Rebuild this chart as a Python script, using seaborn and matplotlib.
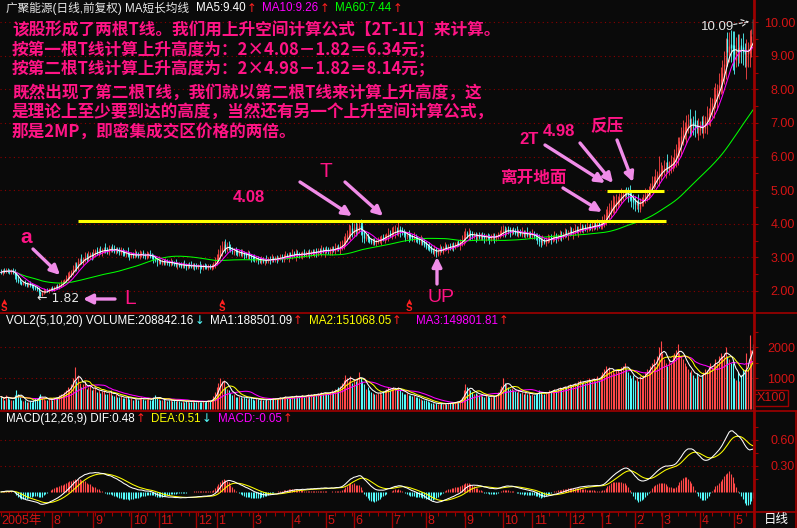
import numpy as np
import pandas as pd
import seaborn as sns
import matplotlib.pyplot as plt
from matplotlib.lines import Line2D

# daily bars, late jun 2005 .. mid may 2007 (20 bars per row)
close = [
    2.55, 2.60, 2.58, 2.62, 2.59, 2.57, 2.60, 2.56, 2.48, 2.36, 2.30, 2.26, 2.22, 2.25, 2.20, 2.18, 2.21, 2.17, 2.15, 2.12,
    2.08, 2.05, 1.98, 1.90, 1.95, 1.99, 2.02, 2.00, 2.05, 2.08, 2.06, 2.10, 2.13, 2.12, 2.18, 2.22, 2.28, 2.32, 2.38, 2.45,
    2.50, 2.58, 2.66, 2.75, 2.72, 2.85, 2.92, 2.88, 2.96, 3.02, 2.98, 3.05, 3.10, 3.06, 3.12, 3.18, 3.14, 3.20, 3.16, 3.22,
    3.25, 3.20, 3.18, 3.24, 3.28, 3.22, 3.19, 3.23, 3.20, 3.15, 3.18, 3.12, 3.10, 3.14, 3.08, 3.05, 3.09, 3.06, 3.10, 3.07,
    3.04, 3.08, 3.12, 3.06, 3.03, 3.07, 3.10, 3.05, 3.02, 2.96, 2.92, 2.88, 2.90, 2.86, 2.88, 2.84, 2.87, 2.85, 2.82, 2.86,
    2.83, 2.80, 2.78, 2.81, 2.77, 2.75, 2.79, 2.76, 2.74, 2.77, 2.75, 2.73, 2.76, 2.74, 2.72, 2.75, 2.73, 2.71, 2.74, 2.72,
    2.70, 2.73, 2.71, 2.74, 2.80, 2.88, 2.98, 3.10, 3.22, 3.28, 3.35, 3.26, 3.32, 3.28, 3.22, 3.18, 3.20, 3.15, 3.12, 3.16,
    3.10, 3.12, 3.08, 3.05, 3.08, 3.03, 3.00, 2.96, 2.94, 2.97, 2.93, 2.90, 2.92, 2.89, 2.93, 2.91, 2.95, 2.92, 2.96, 2.94,
    2.97, 2.95, 2.99, 3.02, 2.98, 3.03, 3.06, 3.02, 3.08, 3.05, 3.10, 3.07, 3.12, 3.09, 3.06, 3.10, 3.13, 3.08, 3.12, 3.15,
    3.12, 3.16, 3.13, 3.18, 3.15, 3.20, 3.17, 3.22, 3.19, 3.24, 3.21, 3.18, 3.23, 3.26, 3.22, 3.28, 3.30, 3.27, 3.33, 3.38,
    3.48, 3.58, 3.66, 3.74, 3.80, 3.76, 3.84, 3.80, 3.86, 3.92, 3.85, 3.70, 3.58, 3.62, 3.55, 3.50, 3.46, 3.49, 3.44, 3.48,
    3.52, 3.55, 3.58, 3.56, 3.62, 3.66, 3.70, 3.68, 3.74, 3.77, 3.80, 3.76, 3.82, 3.78, 3.75, 3.70, 3.66, 3.68, 3.62, 3.60,
    3.57, 3.60, 3.55, 3.52, 3.48, 3.50, 3.44, 3.38, 3.32, 3.28, 3.25, 3.20, 3.17, 3.22, 3.15, 3.20, 3.25, 3.22, 3.27, 3.30,
    3.28, 3.32, 3.30, 3.35, 3.33, 3.38, 3.42, 3.40, 3.46, 3.52, 3.62, 3.70, 3.66, 3.72, 3.68, 3.64, 3.67, 3.63, 3.66, 3.62,
    3.65, 3.61, 3.58, 3.62, 3.60, 3.57, 3.61, 3.64, 3.60, 3.63, 3.68, 3.72, 3.76, 3.80, 3.78, 3.82, 3.79, 3.76, 3.80, 3.77,
    3.74, 3.72, 3.75, 3.71, 3.73, 3.69, 3.72, 3.68, 3.70, 3.66, 3.68, 3.64, 3.60, 3.55, 3.50, 3.47, 3.50, 3.46, 3.52, 3.55,
    3.58, 3.56, 3.60, 3.62, 3.59, 3.63, 3.66, 3.64, 3.68, 3.72, 3.70, 3.74, 3.77, 3.75, 3.78, 3.82, 3.80, 3.84, 3.87, 3.85,
    3.88, 3.86, 3.90, 3.92, 3.89, 3.93, 3.96, 3.94, 3.97, 3.95, 4.00, 4.06, 4.12, 4.25, 4.35, 4.42, 4.50, 4.56, 4.62, 4.68,
    4.72, 4.80, 4.86, 4.90, 4.94, 4.92, 4.85, 4.78, 4.72, 4.64, 4.58, 4.62, 4.55, 4.66, 4.70, 4.78, 4.86, 4.92, 5.00, 5.10,
    5.20, 5.30, 5.38, 5.46, 5.52, 5.58, 5.62, 5.66, 5.70, 5.66, 5.74, 5.80, 5.86, 5.96, 6.10, 6.30, 6.45, 6.60, 6.78, 6.88,
    6.92, 6.96, 6.90, 6.98, 6.94, 6.88, 6.84, 6.86, 6.90, 6.85, 6.92, 7.05, 7.18, 7.30, 7.45, 7.58, 7.72, 7.85, 7.98, 8.12,
    8.30, 8.50, 8.75, 8.95, 9.10, 9.30, 9.22, 9.18, 9.05, 9.15, 9.10, 9.25, 9.18, 9.12, 9.05, 9.10, 9.20, 9.35, 9.60, 9.66,
]
# open - close, in steps of 1.5 % of close (minus = up day)
body_step = 1.5
body = [
    1, -2, 1, -1, 1, 1, -1, 2, 3, 4, 2, 2, 1, -1, 2, 1, -1, 2, 1, 1,
    1, 2, 3, 2, -2, -1, -1, 1, -2, -1, 1, -2, -1, 1, -2, -2, -2, -1, -2, -3,
    -2, -3, -3, -3, 2, -4, -2, 2, -3, -2, 2, -2, -2, 1, -2, -2, 2, -2, 1, -2,
    -1, 2, 1, -2, -1, 2, 1, -1, 1, 2, -1, 2, 1, -1, 2, 1, -1, 1, -1, 1,
    1, -1, -1, 2, 1, -1, -1, 2, 1, 2, 1, 1, -1, 1, -1, 1, -1, 1, 1, -1,
    1, 1, 1, -1, 1, 1, -1, 1, 1, -1, 1, 1, -1, 1, 1, -1, 1, 1, -1, 1,
    1, -1, 1, -1, -2, -3, -3, -4, -4, -2, -2, 3, -2, 1, 2, 1, -1, 2, 1, -1,
    2, -1, 1, 1, -1, 2, 1, 1, 1, -1, 1, 1, -1, 1, -1, 1, -1, 1, -1, 1,
    -1, 1, -1, -1, 1, -2, -1, 1, -2, 1, -2, 1, -2, 1, 1, -1, -1, 2, -1, -1,
    1, -1, 1, -2, 1, -2, 1, -2, 1, -2, 1, 1, -2, -1, 1, -2, -1, 1, -2, -2,
    -3, -3, -2, -2, -2, 2, -2, 2, -2, -2, 2, 4, 3, -1, 2, 1, 1, -1, 1, -1,
    -1, -1, -1, 1, -2, -1, -1, 1, -2, -1, -1, 1, -2, 1, 1, 1, 1, -1, 2, 1,
    1, -1, 1, 1, 1, -1, 2, 2, 2, 1, 1, 2, 1, -2, 2, -2, -2, 1, -2, -1,
    1, -1, 1, -1, 1, -1, -1, 1, -2, -2, -3, -2, 1, -2, 1, 1, -1, 1, -1, 1,
    -1, 1, 1, -1, 1, 1, -1, -1, 1, -1, -1, -1, -1, -2, 1, -1, 1, 1, -1, 1,
    1, 1, -1, 1, -1, 1, -1, 1, -1, 1, -1, 1, 1, 2, 2, 1, -1, 1, -2, -1,
    -1, 1, -1, -1, 1, -1, -1, 1, -1, -1, 1, -1, -1, 1, -1, -1, 1, -1, -1, 1,
    -1, 1, -1, -1, 1, -1, -1, 1, -1, 1, -1, -2, -2, -3, -2, -2, -2, -2, -2, -2,
    -2, -2, -2, -1, -1, 1, 2, 2, 2, 2, 2, -1, 2, -3, -1, -2, -2, -2, -2, -2,
    -2, -2, -2, -2, -2, -2, -1, -1, -1, 2, -2, -2, -2, -2, -3, -3, -3, -3, -3, -2,
    -2, -1, 2, -2, 1, 2, 1, -2, -1, 2, -2, -2, -2, -2, -2, -2, -2, -2, -2, -2,
    -2, -2, -3, -2, 3, -2, 1, 1, 2, -2, 1, -2, 1, 1, 1, -3, -1, -2, -3, 3,
]
# upper / lower shadows, in steps of 2.2 % of the body top / bottom
shadow_step = 2.2
hi_step = [
    1, 1, 1, 1, 1, 1, 1, 1, 1, 1, 2, 1, 1, 1, 1, 1, 1, 1, 1, 1,
    1, 1, 1, 1, 1, 2, 1, 1, 1, 1, 1, 1, 1, 1, 1, 2, 1, 1, 2, 2,
    2, 1, 2, 2, 1, 2, 1, 2, 1, 2, 1, 2, 1, 1, 2, 1, 1, 1, 2, 1,
    1, 2, 1, 2, 1, 1, 2, 1, 1, 1, 2, 1, 1, 1, 2, 1, 1, 1, 2, 1,
    1, 2, 1, 1, 1, 2, 1, 1, 1, 1, 1, 1, 2, 1, 1, 1, 2, 1, 1, 2,
    1, 1, 2, 1, 1, 1, 1, 2, 1, 1, 1, 2, 1, 1, 1, 1, 2, 1, 1, 1,
    1, 1, 1, 1, 1, 2, 2, 2, 2, 3, 2, 2, 2, 2, 1, 1, 1, 1, 1, 1,
    1, 2, 1, 1, 2, 1, 1, 1, 2, 1, 1, 1, 2, 1, 1, 2, 1, 1, 2, 1,
    1, 1, 1, 1, 1, 1, 2, 1, 1, 1, 2, 1, 2, 1, 1, 1, 1, 1, 1, 1,
    1, 1, 1, 1, 1, 1, 1, 2, 1, 1, 1, 1, 1, 1, 1, 2, 1, 1, 2, 2,
    2, 2, 2, 3, 2, 2, 2, 2, 2, 2, 2, 2, 1, 1, 1, 1, 1, 1, 1, 1,
    1, 1, 1, 1, 1, 1, 2, 1, 2, 2, 2, 1, 3, 1, 1, 1, 1, 1, 1, 1,
    1, 2, 1, 1, 1, 2, 1, 1, 1, 1, 2, 1, 1, 2, 1, 1, 2, 1, 1, 2,
    1, 1, 1, 1, 1, 1, 1, 1, 1, 2, 2, 2, 1, 2, 1, 1, 1, 1, 1, 1,
    1, 1, 1, 1, 1, 1, 1, 1, 1, 1, 1, 1, 2, 2, 1, 1, 1, 1, 1, 1,
    1, 2, 1, 1, 2, 1, 1, 2, 1, 1, 2, 1, 1, 1, 1, 1, 2, 1, 1, 2,
    1, 1, 1, 2, 1, 1, 2, 1, 1, 2, 1, 1, 2, 1, 1, 2, 1, 1, 2, 1,
    1, 1, 2, 1, 1, 2, 1, 1, 2, 1, 1, 2, 2, 2, 2, 2, 2, 3, 2, 2,
    1, 1, 2, 1, 1, 1, 1, 2, 1, 1, 1, 1, 2, 1, 1, 1, 2, 1, 1, 1,
    2, 1, 2, 1, 4, 2, 1, 2, 1, 2, 1, 2, 1, 2, 2, 2, 1, 2, 2, 1,
    2, 2, 2, 1, 1, 2, 1, 2, 1, 1, 2, 1, 2, 1, 2, 1, 2, 2, 1, 2,
    2, 2, 2, 3, 1, 2, 2, 2, 2, 2, 2, 2, 1, 2, 1, 2, 1, 2, 1, 0,
]
lo_step = [
    1, 1, 1, 1, 1, 1, 1, 1, 2, 2, 1, 1, 1, 1, 1, 1, 1, 1, 1, 2,
    1, 1, 2, 2, 1, 1, 1, 1, 1, 1, 1, 1, 1, 1, 1, 1, 1, 1, 1, 1,
    1, 1, 1, 1, 2, 1, 1, 1, 1, 1, 2, 1, 1, 2, 1, 1, 1, 1, 1, 1,
    1, 1, 1, 1, 1, 1, 1, 1, 1, 1, 1, 1, 1, 1, 1, 2, 1, 1, 1, 1,
    1, 1, 1, 1, 1, 1, 1, 1, 1, 2, 1, 2, 1, 1, 1, 1, 1, 1, 1, 1,
    1, 1, 1, 2, 1, 1, 1, 1, 2, 1, 1, 1, 1, 2, 1, 1, 3, 1, 1, 1,
    1, 1, 1, 1, 1, 1, 1, 1, 1, 2, 1, 2, 1, 1, 1, 1, 1, 1, 1, 1,
    1, 1, 2, 1, 1, 1, 2, 1, 1, 1, 2, 1, 1, 1, 2, 1, 1, 2, 1, 1,
    1, 2, 1, 1, 2, 1, 1, 1, 2, 1, 1, 1, 2, 1, 1, 1, 2, 1, 1, 1,
    2, 1, 1, 1, 2, 1, 1, 1, 1, 2, 1, 1, 1, 2, 1, 1, 1, 1, 2, 1,
    1, 1, 1, 1, 2, 2, 1, 2, 1, 1, 2, 3, 2, 1, 1, 1, 1, 1, 1, 1,
    1, 1, 2, 1, 1, 1, 2, 1, 1, 1, 2, 1, 1, 2, 1, 1, 2, 1, 2, 1,
    1, 1, 1, 1, 1, 1, 1, 1, 1, 1, 1, 1, 1, 1, 2, 1, 1, 1, 1, 1,
    1, 2, 1, 1, 2, 1, 1, 1, 2, 1, 1, 2, 1, 1, 2, 1, 1, 2, 1, 1,
    1, 1, 2, 1, 1, 2, 1, 1, 2, 1, 1, 1, 1, 1, 2, 1, 1, 2, 1, 1,
    1, 1, 1, 1, 1, 1, 1, 1, 1, 1, 1, 1, 1, 2, 2, 2, 1, 1, 1, 1,
    1, 2, 1, 1, 2, 1, 1, 2, 1, 1, 1, 2, 1, 1, 2, 1, 1, 2, 1, 1,
    1, 1, 1, 1, 1, 1, 1, 1, 1, 1, 1, 1, 1, 1, 1, 2, 2, 1, 2, 2,
    1, 1, 1, 1, 1, 1, 2, 1, 2, 2, 2, 1, 2, 1, 1, 1, 1, 1, 1, 1,
    1, 1, 1, 1, 2, 1, 1, 1, 2, 1, 1, 1, 1, 1, 1, 2, 1, 2, 1, 1,
    2, 1, 2, 1, 2, 2, 1, 1, 1, 1, 1, 1, 2, 1, 2, 1, 2, 1, 2, 1,
    1, 2, 1, 2, 2, 1, 2, 3, 3, 1, 2, 1, 2, 2, 2, 2, 2, 2, 1, 1,
]
# volume in x100 hands
volume = [
    400, 350, 300, 450, 380, 320, 300, 280, 450, 600, 500, 380, 300, 260, 280, 240, 220, 260, 230, 300,
    350, 280, 420, 500, 380, 320, 300, 280, 320, 350, 300, 360, 400, 380, 450, 500, 480, 560, 620, 700,
    650, 800, 1000, 1350, 900, 1100, 850, 700, 800, 900, 650, 700, 750, 600, 650, 700, 550, 600, 520, 580,
    620, 500, 480, 550, 600, 450, 420, 480, 400, 380, 420, 360, 350, 400, 380, 320, 350, 300, 340, 320,
    300, 350, 380, 320, 300, 330, 360, 300, 280, 400, 450, 380, 320, 300, 280, 320, 290, 270, 300, 280,
    260, 280, 250, 300, 270, 240, 260, 230, 250, 280, 240, 220, 260, 240, 230, 250, 220, 240, 260, 230,
    250, 280, 260, 300, 420, 550, 700, 850, 1000, 900, 950, 700, 650, 600, 520, 450, 480, 400, 380, 420,
    380, 350, 400, 360, 330, 350, 380, 320, 300, 340, 310, 290, 320, 300, 280, 310, 300, 330, 310, 350,
    340, 320, 360, 400, 350, 380, 420, 360, 400, 380, 420, 390, 450, 400, 380, 420, 460, 400, 430, 470,
    440, 480, 420, 500, 460, 520, 480, 550, 500, 560, 520, 480, 550, 600, 560, 650, 620, 700, 750, 850,
    950, 1100, 1000, 900, 1050, 850, 950, 900, 1000, 1200, 1000, 900, 800, 650, 700, 600, 550, 520, 480, 500,
    520, 560, 500, 580, 620, 650, 700, 600, 680, 720, 650, 600, 700, 620, 550, 500, 480, 520, 460, 440,
    420, 450, 400, 380, 350, 320, 300, 280, 300, 260, 220, 200, 180, 160, 200, 170, 150, 180, 160, 190,
    170, 200, 180, 210, 200, 230, 260, 250, 300, 400, 600, 800, 700, 650, 600, 550, 500, 520, 480, 450,
    460, 420, 400, 440, 420, 380, 400, 430, 410, 450, 550, 650, 750, 1000, 850, 800, 700, 650, 680, 600,
    580, 550, 600, 520, 560, 500, 540, 480, 520, 460, 500, 450, 480, 520, 600, 550, 500, 480, 520, 560,
    600, 580, 620, 650, 600, 680, 720, 650, 700, 750, 700, 780, 820, 750, 800, 850, 780, 900, 950, 850,
    900, 850, 950, 1000, 900, 950, 1000, 900, 1050, 950, 1100, 1200, 1300, 1400, 1250, 1350, 1200, 1300, 1150, 1250,
    1300, 1200, 1350, 1400, 1500, 1300, 1200, 1100, 1000, 1100, 950, 1000, 900, 1050, 1000, 1100, 1200, 1300, 1250, 1400,
    1500, 1600, 1400, 1700, 2000, 2200, 1800, 1600, 1500, 1400, 1600, 1500, 1700, 1800, 1900, 2100, 1800, 1700, 1600, 1500,
    1400, 1300, 1200, 1250, 1100, 1000, 1150, 1050, 1000, 1100, 1200, 1300, 1250, 1400, 1500, 1350, 1450, 1600, 1500, 1700,
    1800, 1700, 1800, 2000, 1700, 1600, 1500, 1500, 1000, 950, 1200, 900, 1100, 1300, 1200, 1800, 1250, 2400, 1900, 2088,
]

month_bar = [30, 54, 76, 92, 114, 126, 147, 170, 190, 206, 228, 248, 271, 293, 310, 332, 351, 370, 386, 408, 428]
month_lbl = ['8', '9', '10', '11', '12', '1', '3', '4', '5', '6', '7', '8', '9', '10', '11', '12', '1', '2', '3', '4', '5']
price_ticks = [2, 3, 4, 5, 6, 7, 8, 9, 10]
vol_ticks = [1000, 2000]
macd_ticks = [0.30, 0.60]
t_levels = [4.08, 4.98]
s_bars = [2, 129, 238]

note_lines = [
    "该股形成了两根T线。我们用上升空间计算公式【2T-1L】来计算。",
    "按第一根T线计算上升高度为：2×4.08－1.82＝6.34元；",
    "按第二根T线计算上升高度为：2×4.98－1.82＝8.14元；",
    "既然出现了第二根T线，我们就以第二根T线来计算上升高度，这",
    "是理论上至少要到达的高度，当然还有另一个上升空间计算公式，",
    "那是2MP，即密集成交区价格的两倍。",
]

# build the bars and the indicators
df = pd.DataFrame({'close': close, 'body': body, 'hi': hi_step, 'lo': lo_step, 'vol': volume})
df['open'] = df['close'] * (1 + df['body'] * body_step / 100)
df['top'] = df[['open', 'close']].max(axis=1)
df['bot'] = df[['open', 'close']].min(axis=1)
df['high'] = df['top'] * (1 + df['hi'] * shadow_step / 100)
df['low'] = df['bot'] * (1 - df['lo'] * shadow_step / 100)
df['up'] = df['close'] >= df['open']
for n in (5, 10, 60):
    df['ma%d' % n] = df['close'].rolling(n, min_periods=1).mean()
for n in (5, 10, 20):
    df['vma%d' % n] = df['vol'].rolling(n, min_periods=1).mean()
ema12 = df['close'].ewm(span=12, adjust=False).mean()
ema26 = df['close'].ewm(span=26, adjust=False).mean()
df['dif'] = ema12 - ema26
df['dea'] = df['dif'].ewm(span=9, adjust=False).mean()
df['macd'] = 2 * (df['dif'] - df['dea'])
x = np.arange(len(df))

BG = '#0a0a0a'
UP = '#ff4848'
DN = '#54fcfc'
AX = '#a00000'
LBL = '#d41414'
GRID = '#8a0000'
PINK = '#ff1485'
ARROW = '#f08ce8'
YEL = '#ffff00'
MAG = '#ff00ff'
RED_ARR = '#ff2020'

sns.set_theme(style='dark', rc={'axes.facecolor': BG, 'figure.facecolor': BG, 'axes.grid': False})
plt.rcParams['font.family'] = ['Liberation Sans', 'Noto Sans CJK SC', 'DejaVu Sans']
plt.rcParams['axes.unicode_minus'] = False

W, H = 797, 528
fig = plt.figure(figsize=(W / 100, H / 100), dpi=100)
renderer = fig.canvas.get_renderer()


def panel(top, bottom):
    ax = fig.add_axes([0, 1 - bottom / H, 754 / W, (bottom - top) / H])
    ax.set_facecolor(BG)
    for s in ax.spines.values():
        s.set_visible(False)
    ax.spines['right'].set_visible(True)
    ax.spines['right'].set_color(AX)
    ax.set_xlim(-0.5, len(df) - 0.5)
    ax.set_xticks([])
    ax.yaxis.tick_right()
    return ax


def right_ticks(ax, ticks, fmt, minor):
    ax.set_yticks(ticks, [fmt % t for t in ticks], ha='right')
    ax.set_yticks(minor, minor=True)
    ax.tick_params(axis='y', which='both', colors=AX, labelcolor=LBL, direction='out',
                   length=3, width=0.8, labelsize=9, pad=26.5, right=True, left=False)
    ax.grid(axis='y', which='major', color=GRID, linestyle=(0, (1, 3)), linewidth=0.8)


def ftext(px, py, s, color, **kw):
    return fig.text(px / W, 1 - py / H, s, color=color, ha=kw.pop('ha', 'left'),
                    va=kw.pop('va', 'center'), **kw)


def header(py, groups, size=8.4):
    # groups: (start_x, text, text colour, arrow, arrow colour); each piece goes after the last one
    end = 0
    for start, s, c, arr, ac in groups:
        cur = max(start, end + 6)
        t = ftext(cur, py, s, c, fontsize=size)
        cur = t.get_window_extent(renderer=renderer).x1 + 1
        if arr:
            t = ftext(cur, py, arr, ac, fontsize=size, family=['DejaVu Sans'])
            cur = t.get_window_extent(renderer=renderer).x1
        end = cur


def arrow(x0, y0, x1, y1):
    fig.axes[0].annotate('', xy=(x1, H - y1), xytext=(x0, H - y0), xycoords='figure pixels',
                         textcoords='figure pixels',
                         arrowprops=dict(arrowstyle='-|>', color=ARROW, lw=2.4, mutation_scale=14,
                                         shrinkA=0, shrinkB=0))


def fline(xs, ys):
    fig.add_artist(Line2D([v / W for v in xs], [1 - v / H for v in ys], transform=fig.transFigure,
                          color=AX, lw=1.2))


cols = np.where(df['up'], UP, DN)

# price panel
ax_p = panel(0, 312)
ax_p.set_ylim(1.375, 10.66)
right_ticks(ax_p, price_ticks, '%.2f', [t + 0.5 for t in price_ticks[:-1]])
ax_p.vlines(x, df['low'], df['high'], colors=cols, lw=0.6)
ax_p.vlines(x, df['bot'], df['top'], colors=cols, lw=0.95)
sns.lineplot(x=x, y=df['ma60'].values, ax=ax_p, color='#00ff00', lw=0.75)
sns.lineplot(x=x, y=df['ma10'].values, ax=ax_p, color=MAG, lw=0.75)
sns.lineplot(x=x, y=df['ma5'].values, ax=ax_p, color='white', lw=0.75)
ax_p.hlines(t_levels[0], 45, 388, colors=YEL, lw=2.2)
ax_p.hlines(t_levels[1], 354, 387, colors=YEL, lw=2.2)
tr = ax_p.get_xaxis_transform()
ax_p.plot(s_bars, [0.036] * len(s_bars), '^', transform=tr, color=RED_ARR, ms=3.5, mew=0)
for b in s_bars:
    ax_p.text(b, 0.012, 'S', transform=tr, color=RED_ARR, fontsize=7, fontweight='bold',
              ha='center', va='center')

# volume panel
ax_v = panel(313, 410)
ax_v.set_ylim(-32, 3097)
right_ticks(ax_v, vol_ticks, '%d', [500, 1500, 2500])
ax_v.vlines(x, 0, df['vol'], colors=cols, lw=0.8)
sns.lineplot(x=x, y=df['vma20'].values, ax=ax_v, color=MAG, lw=0.75)
sns.lineplot(x=x, y=df['vma10'].values, ax=ax_v, color=YEL, lw=0.75)
sns.lineplot(x=x, y=df['vma5'].values, ax=ax_v, color='white', lw=0.75)

# macd panel
ax_m = panel(411, 512)
ax_m.set_ylim(-0.231, 0.934)
right_ticks(ax_m, macd_ticks, '%.2f', [0.15, 0.45, 0.75])
ax_m.vlines(x, 0, df['macd'], colors=np.where(df['macd'] >= 0, UP, DN), lw=0.8)
sns.lineplot(x=x, y=df['dea'].values, ax=ax_m, color=YEL, lw=0.75)
sns.lineplot(x=x, y=df['dif'].values, ax=ax_m, color='white', lw=0.75)

# date band
ax_d = panel(512, 528)
ax_d.set_ylim(0, 1)
ax_d.set_yticks([])
ax_d.xaxis.tick_top()
ax_d.set_xticks(month_bar, [''] * len(month_bar))
ax_d.set_xticks(range(0, len(df), 5), minor=True)
ax_d.tick_params(axis='x', which='major', direction='in', length=12, width=1, color=AX, top=True, bottom=False)
ax_d.tick_params(axis='x', which='minor', direction='in', length=3, width=0.8, color=AX, top=True, bottom=False)
ax_d.text(0.3, 0.42, '2005年', color=LBL, fontsize=9, ha='left', va='center')
for b, lab in zip(month_bar, month_lbl):
    ax_d.text(b + 0.9, 0.42, lab, color=LBL, fontsize=9, ha='left', va='center')

# frame lines
fline([0, 797], [312.5, 312.5])
fline([0, 797], [411, 411])
fline([0, 797], [512, 512])
fline([754.5, 754.5], [0, 528])
fline([796, 796], [411, 528])
ftext(771, 398, 'X100', LBL, fontsize=9, ha='center',
      bbox=dict(boxstyle='square,pad=0.15', fc='none', ec=AX, lw=1))
ftext(776, 520, '日线', 'white', fontsize=9, ha='center', family=['Noto Sans CJK SC'])

# headers
header(8, [(1, '广聚能源(日线,前复权) MA短长均线', '#e6e6e6', '', ''),
           (193, 'MA5:9.40', 'white', '↑', RED_ARR),
           (259, 'MA10:9.26', MAG, '↑', RED_ARR),
           (332, 'MA60:7.44', '#00ff00', '↑', RED_ARR)])
header(321, [(1, 'VOL2(5,10,20) VOLUME:208842.16', 'white', '↓', DN),
             (200, 'MA1:188501.09', 'white', '↑', RED_ARR),
             (308, 'MA2:151068.05', YEL, '↑', RED_ARR),
             (416, 'MA3:149801.81', MAG, '↑', RED_ARR)])
header(419, [(1, 'MACD(12,26,9) DIF:0.48', 'white', '↑', RED_ARR),
             (150, 'DEA:0.51', YEL, '↓', DN),
             (218, 'MACD:-0.05', MAG, '↑', RED_ARR)])

# extremes marked by the software
ftext(37, 298, '← %.2f' % df['low'].min(), '#e6e6e6', fontsize=9, family=['DejaVu Sans'])
ftext(701, 27, '%.2f' % df['high'].max(), '#e6e6e6', fontsize=9.5)
fig.axes[0].annotate('', xy=(752, H - 21), xytext=(731, H - 25), xycoords='figure pixels',
                     textcoords='figure pixels',
                     arrowprops=dict(arrowstyle='->', color='#e6e6e6', lw=0.8, linestyle=(0, (3, 2))))

# notes
for s, py in zip(note_lines, [30, 50, 69, 93, 113, 133]):
    ftext(12, py, s, PINK, fontsize=12, fontweight='bold', family=['Noto Sans CJK SC', 'DejaVu Sans'])

ftext(20, 238, 'a', PINK, fontsize=15, fontweight='bold')
arrow(33, 249, 60, 275)
arrow(115, 299, 83, 299)
ftext(124, 298, 'L', PINK, fontsize=15)
arrow(437, 284, 437, 257)
ftext(427, 298, 'UP', PINK, fontsize=14)
ftext(320, 172, 'T', PINK, fontsize=15)
ftext(233, 197, '4.08', PINK, fontsize=12, fontweight='bold')
arrow(300, 182, 352, 216)
arrow(345, 182, 383, 216)
ftext(519, 140, '2T', PINK, fontsize=12, fontweight='bold')
ftext(543, 132, '4.98', PINK, fontsize=12, fontweight='bold')
ftext(590, 125, '反压', PINK, fontsize=12, fontweight='bold', family=['Noto Sans CJK SC'])
ftext(500, 178, '离开地面', PINK, fontsize=12, fontweight='bold', family=['Noto Sans CJK SC'])
arrow(545, 145, 605, 183)
arrow(580, 143, 613, 183)
arrow(617, 140, 633, 182)
arrow(563, 188, 602, 212)

fig.savefig('out.png', dpi=100, facecolor=BG)
